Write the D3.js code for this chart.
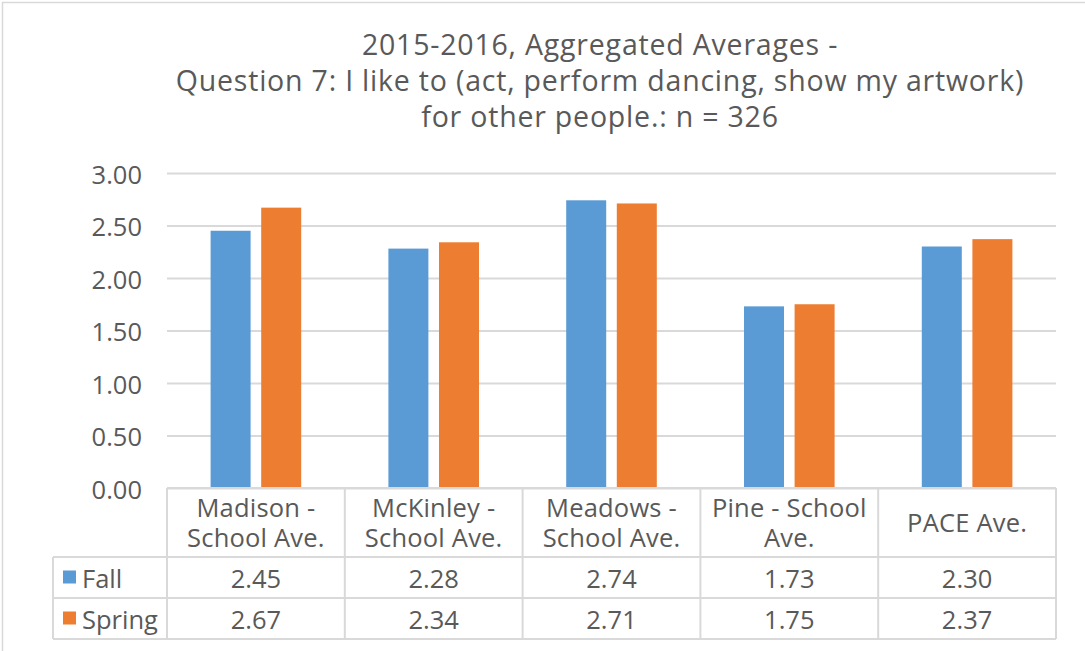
<!DOCTYPE html>
<html>
<head>
<meta charset="utf-8">
<script src="https://cdn.jsdelivr.net/npm/d3@7"></script>
<style>
  html, body { margin: 0; padding: 0; background: #fff; }
  svg { display: block; }
  text { font-family: "Open Sans", Lato, sans-serif; fill: #595959; }
</style>
</head>
<body>
<svg id="chart" width="1085" height="651"></svg>
<script>
// Survey averages per school, fall vs spring
const titleLines = [
  "2015-2016, Aggregated Averages -",
  "Question 7: I like to (act, perform dancing, show my artwork)",
  "for other people.: n = 326"
];
const categories = [
  ["Madison -", "School Ave."],
  ["McKinley -", "School Ave."],
  ["Meadows -", "School Ave."],
  ["Pine - School", "Ave."],
  ["PACE Ave."]
];
const seriesNames = ["Fall", "Spring"];
const fallValues = [2.45, 2.28, 2.74, 1.73, 2.30];
const springValues = [2.67, 2.34, 2.71, 1.75, 2.37];
const yTicks = [0, 0.5, 1, 1.5, 2, 2.5, 3];
const colors = ["#5B9BD5", "#ED7D31"];

const series = [fallValues, springValues];

const svg = d3.select("#chart");
const plotLeft = 167, plotRight = 1056, plotTop = 173, plotBottom = 488;
const tableLeft = 53, headerBottom = 557, rowH = 41;
const fontFamily = "'Open Sans', Lato, sans-serif";
const labelSize = 25.5;

// outer chart frame (top and left edges visible)
svg.append("rect")
  .attr("x", 2.5).attr("y", 2.5)
  .attr("width", 1200).attr("height", 800)
  .attr("fill", "none").attr("stroke", "#d9d9d9").attr("stroke-width", 1.5);

// title
svg.append("g").selectAll("text")
  .data(titleLines).join("text")
  .attr("x", 600)
  .attr("y", (d, i) => 55 + i * 36)
  .attr("text-anchor", "middle")
  .attr("font-size", 28.5)
  .attr("letter-spacing", 0.8)
  .text(d => d);

const x = d3.scaleBand()
  .domain(d3.range(categories.length))
  .range([plotLeft, plotRight]);

const y = d3.scaleLinear().domain([0, 3]).range([plotBottom, plotTop]);

// gridlines and y axis labels
const yAxis = d3.axisLeft(y)
  .tickValues(yTicks)
  .tickFormat(d3.format(".2f"))
  .tickSize(-(plotRight - plotLeft))
  .tickPadding(25);
const gy = svg.append("g")
  .attr("transform", `translate(${plotLeft},0)`)
  .call(yAxis);
gy.select(".domain").remove();
gy.selectAll(".tick line").attr("stroke", "#d9d9d9").attr("stroke-width", 2);
gy.selectAll(".tick text")
  .attr("font-size", labelSize)
  .attr("dy", "0.4em")
  .attr("fill", "#595959")
  .attr("font-family", fontFamily);

// bars
const barW = 40, gap = 10.6;
const groupOffset = (x.bandwidth() - (2 * barW + gap)) / 2;
series.forEach((vals, s) => {
  svg.append("g").selectAll("rect")
    .data(vals).join("rect")
    .attr("x", (d, i) => x(i) + groupOffset + s * (barW + gap))
    .attr("y", d => y(d))
    .attr("width", barW)
    .attr("height", d => y(0) - y(d))
    .attr("fill", colors[s]);
});

// data table
const grid = svg.append("g").attr("stroke", "#d9d9d9").attr("stroke-width", 2).attr("fill", "none");
const tableBottom = headerBottom + rowH * series.length;
// horizontal lines
grid.append("line").attr("x1", plotLeft).attr("x2", plotRight).attr("y1", plotBottom).attr("y2", plotBottom);
d3.range(series.length + 1).forEach(r => {
  const yy = headerBottom + r * rowH;
  grid.append("line").attr("x1", tableLeft).attr("x2", plotRight).attr("y1", yy).attr("y2", yy);
});
// vertical lines
grid.append("line").attr("x1", tableLeft).attr("x2", tableLeft).attr("y1", headerBottom).attr("y2", tableBottom);
d3.range(categories.length + 1).forEach(i => {
  const xx = i < categories.length ? x(i) : plotRight;
  grid.append("line").attr("x1", xx).attr("x2", xx).attr("y1", plotBottom).attr("y2", tableBottom);
});

// category headers
categories.forEach((lines, i) => {
  const cx = x(i) + x.bandwidth() / 2;
  const mid = (plotBottom + headerBottom) / 2;
  const lh = 30;
  const t = svg.append("text")
    .attr("text-anchor", "middle")
    .attr("font-size", labelSize)
    .attr("letter-spacing", 0.2);
  lines.forEach((ln, k) => {
    t.append("tspan")
      .attr("x", cx)
      .attr("y", mid + (k - (lines.length - 1) / 2) * lh + 9)
      .text(ln);
  });
});

// rows: legend key + values
series.forEach((vals, s) => {
  const rowMid = headerBottom + s * rowH + rowH / 2;
  svg.append("rect")
    .attr("x", 63).attr("y", rowMid - 7)
    .attr("width", 13).attr("height", 13)
    .attr("fill", colors[s]);
  svg.append("text")
    .attr("x", 82).attr("y", rowMid + 10)
    .attr("font-size", labelSize)
    .text(seriesNames[s]);
  svg.append("g").selectAll("text")
    .data(vals).join("text")
    .attr("x", (d, i) => x(i) + x.bandwidth() / 2)
    .attr("y", rowMid + 10)
    .attr("text-anchor", "middle")
    .attr("font-size", labelSize)
    .text(d => d.toFixed(2));
});
</script>
</body>
</html>
